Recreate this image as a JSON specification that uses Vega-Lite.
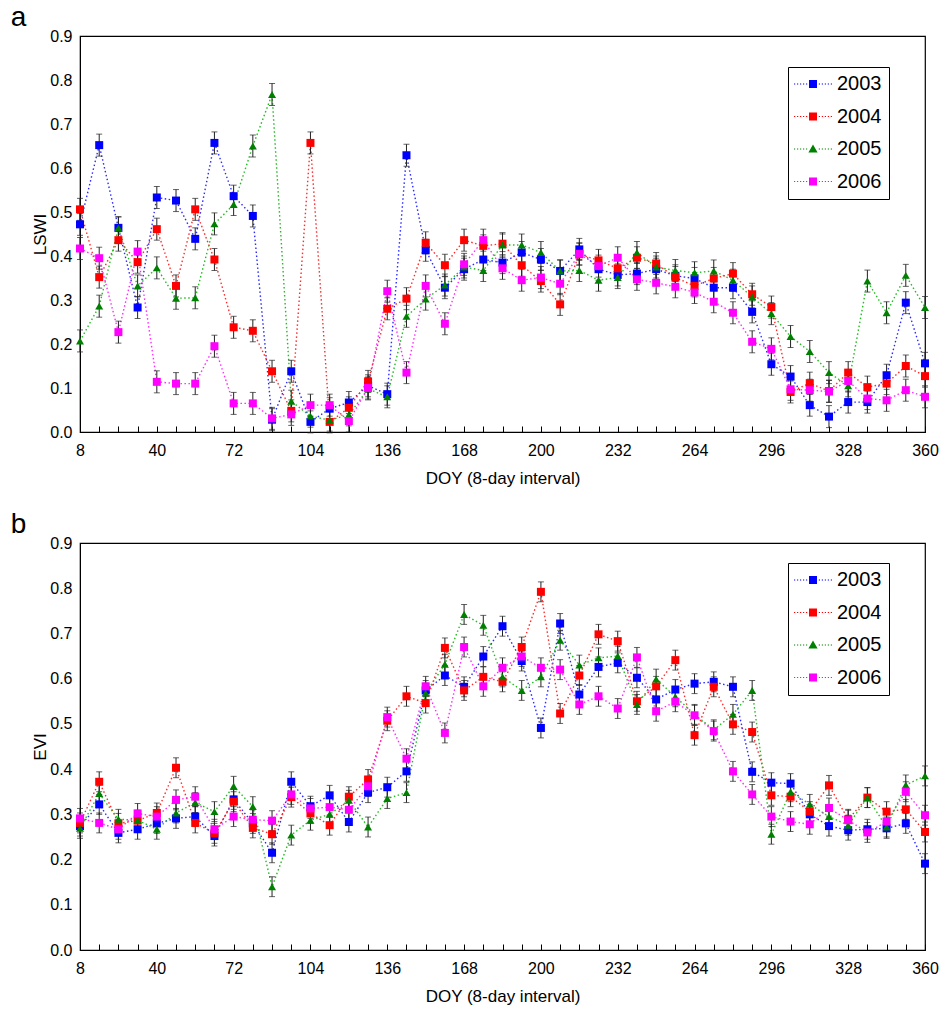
{
"$schema": "https://vega.github.io/schema/vega-lite/v6.json",
"autosize": {"type": "pad"},
"padding": {"left": 10, "top": 3, "right": 5, "bottom": 5},
"config": {
  "font": "Liberation Sans",
  "axis": {"labelFontSize": 16, "labelColor": "black", "titleFontSize": 17, "titleFontWeight": "normal", "titleColor": "black", "domainColor": "black", "tickColor": "black", "grid": false},
  "view": {"stroke": "black", "strokeWidth": 1.2},
  "title": {"color": "black"}
},
"spacing": 23,
"resolve": {"legend": {"fill": "independent"}},
"datasets": {
"lswi": [
{"doy":8,"year":"2003","val":0.472,"err":0.025},{"doy":8,"year":"2004","val":0.506,"err":0.025},{"doy":8,"year":"2005","val":0.207,"err":0.025},{"doy":8,"year":"2006","val":0.417,"err":0.025},
{"doy":16,"year":"2003","val":0.652,"err":0.025},{"doy":16,"year":"2004","val":0.352,"err":0.025},{"doy":16,"year":"2005","val":0.286,"err":0.025},{"doy":16,"year":"2006","val":0.395,"err":0.025},
{"doy":24,"year":"2003","val":0.464,"err":0.025},{"doy":24,"year":"2004","val":0.436,"err":0.025},{"doy":24,"year":"2005","val":0.464,"err":0.025},{"doy":24,"year":"2006","val":0.227,"err":0.025},
{"doy":32,"year":"2003","val":0.283,"err":0.025},{"doy":32,"year":"2004","val":0.386,"err":0.025},{"doy":32,"year":"2005","val":0.332,"err":0.025},{"doy":32,"year":"2006","val":0.41,"err":0.025},
{"doy":40,"year":"2003","val":0.533,"err":0.025},{"doy":40,"year":"2004","val":0.461,"err":0.025},{"doy":40,"year":"2005","val":0.373,"err":0.025},{"doy":40,"year":"2006","val":0.114,"err":0.025},
{"doy":48,"year":"2003","val":0.526,"err":0.025},{"doy":48,"year":"2004","val":0.332,"err":0.025},{"doy":48,"year":"2005","val":0.304,"err":0.025},{"doy":48,"year":"2006","val":0.11,"err":0.025},
{"doy":56,"year":"2003","val":0.439,"err":0.025},{"doy":56,"year":"2004","val":0.506,"err":0.025},{"doy":56,"year":"2005","val":0.305,"err":0.025},{"doy":56,"year":"2006","val":0.11,"err":0.025},
{"doy":64,"year":"2003","val":0.657,"err":0.025},{"doy":64,"year":"2004","val":0.392,"err":0.025},{"doy":64,"year":"2005","val":0.473,"err":0.025},{"doy":64,"year":"2006","val":0.195,"err":0.025},
{"doy":72,"year":"2003","val":0.536,"err":0.025},{"doy":72,"year":"2004","val":0.238,"err":0.025},{"doy":72,"year":"2005","val":0.517,"err":0.025},{"doy":72,"year":"2006","val":0.065,"err":0.025},
{"doy":80,"year":"2003","val":0.491,"err":0.025},{"doy":80,"year":"2004","val":0.23,"err":0.025},{"doy":80,"year":"2005","val":0.65,"err":0.025},{"doy":80,"year":"2006","val":0.065,"err":0.025},
{"doy":88,"year":"2003","val":0.028,"err":0.025},{"doy":88,"year":"2004","val":0.138,"err":0.025},{"doy":88,"year":"2005","val":0.767,"err":0.025},{"doy":88,"year":"2006","val":0.031,"err":0.025},
{"doy":96,"year":"2003","val":0.138,"err":0.025},{"doy":96,"year":"2004","val":0.048,"err":0.025},{"doy":96,"year":"2005","val":0.07,"err":0.025},{"doy":96,"year":"2006","val":0.04,"err":0.025},
{"doy":104,"year":"2003","val":0.023,"err":0.025},{"doy":104,"year":"2004","val":0.657,"err":0.025},{"doy":104,"year":"2005","val":0.036,"err":0.025},{"doy":104,"year":"2006","val":0.061,"err":0.025},
{"doy":112,"year":"2003","val":0.053,"err":0.025},{"doy":112,"year":"2004","val":0.023,"err":0.025},{"doy":112,"year":"2005","val":0.027,"err":0.025},{"doy":112,"year":"2006","val":0.061,"err":0.025},
{"doy":120,"year":"2003","val":0.067,"err":0.025},{"doy":120,"year":"2004","val":0.055,"err":0.025},{"doy":120,"year":"2005","val":0.039,"err":0.025},{"doy":120,"year":"2006","val":0.025,"err":0.025},
{"doy":128,"year":"2003","val":0.105,"err":0.025},{"doy":128,"year":"2004","val":0.115,"err":0.025},{"doy":128,"year":"2005","val":0.098,"err":0.025},{"doy":128,"year":"2006","val":0.1,"err":0.025},
{"doy":136,"year":"2003","val":0.086,"err":0.025},{"doy":136,"year":"2004","val":0.28,"err":0.025},{"doy":136,"year":"2005","val":0.08,"err":0.025},{"doy":136,"year":"2006","val":0.32,"err":0.025},
{"doy":144,"year":"2003","val":0.629,"err":0.025},{"doy":144,"year":"2004","val":0.303,"err":0.025},{"doy":144,"year":"2005","val":0.263,"err":0.025},{"doy":144,"year":"2006","val":0.135,"err":0.025},
{"doy":152,"year":"2003","val":0.413,"err":0.025},{"doy":152,"year":"2004","val":0.43,"err":0.025},{"doy":152,"year":"2005","val":0.302,"err":0.025},{"doy":152,"year":"2006","val":0.332,"err":0.025},
{"doy":160,"year":"2003","val":0.328,"err":0.025},{"doy":160,"year":"2004","val":0.379,"err":0.025},{"doy":160,"year":"2005","val":0.334,"err":0.025},{"doy":160,"year":"2006","val":0.246,"err":0.025},
{"doy":168,"year":"2003","val":0.37,"err":0.025},{"doy":168,"year":"2004","val":0.436,"err":0.025},{"doy":168,"year":"2005","val":0.375,"err":0.025},{"doy":168,"year":"2006","val":0.381,"err":0.025},
{"doy":176,"year":"2003","val":0.392,"err":0.025},{"doy":176,"year":"2004","val":0.423,"err":0.025},{"doy":176,"year":"2005","val":0.367,"err":0.025},{"doy":176,"year":"2006","val":0.436,"err":0.025},
{"doy":184,"year":"2003","val":0.385,"err":0.025},{"doy":184,"year":"2004","val":0.428,"err":0.025},{"doy":184,"year":"2005","val":0.425,"err":0.025},{"doy":184,"year":"2006","val":0.372,"err":0.025},
{"doy":192,"year":"2003","val":0.408,"err":0.025},{"doy":192,"year":"2004","val":0.379,"err":0.025},{"doy":192,"year":"2005","val":0.425,"err":0.025},{"doy":192,"year":"2006","val":0.345,"err":0.025},
{"doy":200,"year":"2003","val":0.392,"err":0.025},{"doy":200,"year":"2004","val":0.343,"err":0.025},{"doy":200,"year":"2005","val":0.408,"err":0.025},{"doy":200,"year":"2006","val":0.351,"err":0.025},
{"doy":208,"year":"2003","val":0.366,"err":0.025},{"doy":208,"year":"2004","val":0.29,"err":0.025},{"doy":208,"year":"2005","val":0.366,"err":0.025},{"doy":208,"year":"2006","val":0.337,"err":0.025},
{"doy":216,"year":"2003","val":0.415,"err":0.025},{"doy":216,"year":"2004","val":0.404,"err":0.025},{"doy":216,"year":"2005","val":0.367,"err":0.025},{"doy":216,"year":"2006","val":0.405,"err":0.025},
{"doy":224,"year":"2003","val":0.37,"err":0.025},{"doy":224,"year":"2004","val":0.39,"err":0.025},{"doy":224,"year":"2005","val":0.345,"err":0.025},{"doy":224,"year":"2006","val":0.377,"err":0.025},
{"doy":232,"year":"2003","val":0.357,"err":0.025},{"doy":232,"year":"2004","val":0.372,"err":0.025},{"doy":232,"year":"2005","val":0.351,"err":0.025},{"doy":232,"year":"2006","val":0.396,"err":0.025},
{"doy":240,"year":"2003","val":0.36,"err":0.025},{"doy":240,"year":"2004","val":0.396,"err":0.025},{"doy":240,"year":"2005","val":0.408,"err":0.025},{"doy":240,"year":"2006","val":0.347,"err":0.025},
{"doy":248,"year":"2003","val":0.37,"err":0.025},{"doy":248,"year":"2004","val":0.383,"err":0.025},{"doy":248,"year":"2005","val":0.375,"err":0.025},{"doy":248,"year":"2006","val":0.339,"err":0.025},
{"doy":256,"year":"2003","val":0.355,"err":0.025},{"doy":256,"year":"2004","val":0.351,"err":0.025},{"doy":256,"year":"2005","val":0.367,"err":0.025},{"doy":256,"year":"2006","val":0.33,"err":0.025},
{"doy":264,"year":"2003","val":0.349,"err":0.025},{"doy":264,"year":"2004","val":0.332,"err":0.025},{"doy":264,"year":"2005","val":0.362,"err":0.025},{"doy":264,"year":"2006","val":0.317,"err":0.025},
{"doy":272,"year":"2003","val":0.328,"err":0.025},{"doy":272,"year":"2004","val":0.349,"err":0.025},{"doy":272,"year":"2005","val":0.366,"err":0.025},{"doy":272,"year":"2006","val":0.296,"err":0.025},
{"doy":280,"year":"2003","val":0.328,"err":0.025},{"doy":280,"year":"2004","val":0.36,"err":0.025},{"doy":280,"year":"2005","val":0.345,"err":0.025},{"doy":280,"year":"2006","val":0.271,"err":0.025},
{"doy":288,"year":"2003","val":0.273,"err":0.025},{"doy":288,"year":"2004","val":0.313,"err":0.025},{"doy":288,"year":"2005","val":0.307,"err":0.025},{"doy":288,"year":"2006","val":0.205,"err":0.025},
{"doy":296,"year":"2003","val":0.154,"err":0.025},{"doy":296,"year":"2004","val":0.284,"err":0.025},{"doy":296,"year":"2005","val":0.269,"err":0.025},{"doy":296,"year":"2006","val":0.189,"err":0.025},
{"doy":304,"year":"2003","val":0.126,"err":0.025},{"doy":304,"year":"2004","val":0.091,"err":0.025},{"doy":304,"year":"2005","val":0.217,"err":0.025},{"doy":304,"year":"2006","val":0.097,"err":0.025},
{"doy":312,"year":"2003","val":0.061,"err":0.025},{"doy":312,"year":"2004","val":0.111,"err":0.025},{"doy":312,"year":"2005","val":0.183,"err":0.025},{"doy":312,"year":"2006","val":0.095,"err":0.025},
{"doy":320,"year":"2003","val":0.035,"err":0.025},{"doy":320,"year":"2004","val":0.093,"err":0.025},{"doy":320,"year":"2005","val":0.135,"err":0.025},{"doy":320,"year":"2006","val":0.092,"err":0.025},
{"doy":328,"year":"2003","val":0.068,"err":0.025},{"doy":328,"year":"2004","val":0.135,"err":0.025},{"doy":328,"year":"2005","val":0.105,"err":0.025},{"doy":328,"year":"2006","val":0.116,"err":0.025},
{"doy":336,"year":"2003","val":0.068,"err":0.025},{"doy":336,"year":"2004","val":0.102,"err":0.025},{"doy":336,"year":"2005","val":0.343,"err":0.025},{"doy":336,"year":"2006","val":0.076,"err":0.025},
{"doy":344,"year":"2003","val":0.129,"err":0.025},{"doy":344,"year":"2004","val":0.11,"err":0.025},{"doy":344,"year":"2005","val":0.271,"err":0.025},{"doy":344,"year":"2006","val":0.072,"err":0.025},
{"doy":352,"year":"2003","val":0.294,"err":0.025},{"doy":352,"year":"2004","val":0.15,"err":0.025},{"doy":352,"year":"2005","val":0.356,"err":0.025},{"doy":352,"year":"2006","val":0.095,"err":0.025},
{"doy":360,"year":"2003","val":0.156,"err":0.025},{"doy":360,"year":"2004","val":0.127,"err":0.025},{"doy":360,"year":"2005","val":0.283,"err":0.025},{"doy":360,"year":"2006","val":0.08,"err":0.025}
],
"evi": [
{"doy":8,"year":"2003","val":0.274,"err":0.022},{"doy":8,"year":"2004","val":0.281,"err":0.022},{"doy":8,"year":"2005","val":0.269,"err":0.022},{"doy":8,"year":"2006","val":0.291,"err":0.022},
{"doy":16,"year":"2003","val":0.322,"err":0.022},{"doy":16,"year":"2004","val":0.372,"err":0.022},{"doy":16,"year":"2005","val":0.346,"err":0.022},{"doy":16,"year":"2006","val":0.281,"err":0.022},
{"doy":24,"year":"2003","val":0.259,"err":0.022},{"doy":24,"year":"2004","val":0.28,"err":0.022},{"doy":24,"year":"2005","val":0.289,"err":0.022},{"doy":24,"year":"2006","val":0.267,"err":0.022},
{"doy":32,"year":"2003","val":0.267,"err":0.022},{"doy":32,"year":"2004","val":0.286,"err":0.022},{"doy":32,"year":"2005","val":0.287,"err":0.022},{"doy":32,"year":"2006","val":0.302,"err":0.022},
{"doy":40,"year":"2003","val":0.28,"err":0.022},{"doy":40,"year":"2004","val":0.303,"err":0.022},{"doy":40,"year":"2005","val":0.267,"err":0.022},{"doy":40,"year":"2006","val":0.295,"err":0.022},
{"doy":48,"year":"2003","val":0.291,"err":0.022},{"doy":48,"year":"2004","val":0.403,"err":0.022},{"doy":48,"year":"2005","val":0.303,"err":0.022},{"doy":48,"year":"2006","val":0.332,"err":0.022},
{"doy":56,"year":"2003","val":0.295,"err":0.022},{"doy":56,"year":"2004","val":0.281,"err":0.022},{"doy":56,"year":"2005","val":0.326,"err":0.022},{"doy":56,"year":"2006","val":0.339,"err":0.022},
{"doy":64,"year":"2003","val":0.252,"err":0.022},{"doy":64,"year":"2004","val":0.258,"err":0.022},{"doy":64,"year":"2005","val":0.306,"err":0.022},{"doy":64,"year":"2006","val":0.267,"err":0.022},
{"doy":72,"year":"2003","val":0.333,"err":0.022},{"doy":72,"year":"2004","val":0.328,"err":0.022},{"doy":72,"year":"2005","val":0.362,"err":0.022},{"doy":72,"year":"2006","val":0.295,"err":0.022},
{"doy":80,"year":"2003","val":0.28,"err":0.022},{"doy":80,"year":"2004","val":0.27,"err":0.022},{"doy":80,"year":"2005","val":0.317,"err":0.022},{"doy":80,"year":"2006","val":0.288,"err":0.022},
{"doy":88,"year":"2003","val":0.215,"err":0.022},{"doy":88,"year":"2004","val":0.256,"err":0.022},{"doy":88,"year":"2005","val":0.14,"err":0.022},{"doy":88,"year":"2006","val":0.286,"err":0.022},
{"doy":96,"year":"2003","val":0.372,"err":0.022},{"doy":96,"year":"2004","val":0.338,"err":0.022},{"doy":96,"year":"2005","val":0.254,"err":0.022},{"doy":96,"year":"2006","val":0.344,"err":0.022},
{"doy":104,"year":"2003","val":0.318,"err":0.022},{"doy":104,"year":"2004","val":0.302,"err":0.022},{"doy":104,"year":"2005","val":0.287,"err":0.022},{"doy":104,"year":"2006","val":0.313,"err":0.022},
{"doy":112,"year":"2003","val":0.342,"err":0.022},{"doy":112,"year":"2004","val":0.276,"err":0.022},{"doy":112,"year":"2005","val":0.3,"err":0.022},{"doy":112,"year":"2006","val":0.316,"err":0.022},
{"doy":120,"year":"2003","val":0.283,"err":0.022},{"doy":120,"year":"2004","val":0.339,"err":0.022},{"doy":120,"year":"2005","val":0.331,"err":0.022},{"doy":120,"year":"2006","val":0.31,"err":0.022},
{"doy":128,"year":"2003","val":0.348,"err":0.022},{"doy":128,"year":"2004","val":0.377,"err":0.022},{"doy":128,"year":"2005","val":0.272,"err":0.022},{"doy":128,"year":"2006","val":0.362,"err":0.022},
{"doy":136,"year":"2003","val":0.36,"err":0.022},{"doy":136,"year":"2004","val":0.507,"err":0.022},{"doy":136,"year":"2005","val":0.335,"err":0.022},{"doy":136,"year":"2006","val":0.515,"err":0.022},
{"doy":144,"year":"2003","val":0.395,"err":0.022},{"doy":144,"year":"2004","val":0.561,"err":0.022},{"doy":144,"year":"2005","val":0.348,"err":0.022},{"doy":144,"year":"2006","val":0.423,"err":0.022},
{"doy":152,"year":"2003","val":0.574,"err":0.022},{"doy":152,"year":"2004","val":0.546,"err":0.022},{"doy":152,"year":"2005","val":0.568,"err":0.022},{"doy":152,"year":"2006","val":0.583,"err":0.022},
{"doy":160,"year":"2003","val":0.607,"err":0.022},{"doy":160,"year":"2004","val":0.668,"err":0.022},{"doy":160,"year":"2005","val":0.632,"err":0.022},{"doy":160,"year":"2006","val":0.48,"err":0.022},
{"doy":168,"year":"2003","val":0.582,"err":0.022},{"doy":168,"year":"2004","val":0.574,"err":0.022},{"doy":168,"year":"2005","val":0.742,"err":0.022},{"doy":168,"year":"2006","val":0.67,"err":0.022},
{"doy":176,"year":"2003","val":0.649,"err":0.022},{"doy":176,"year":"2004","val":0.604,"err":0.022},{"doy":176,"year":"2005","val":0.718,"err":0.022},{"doy":176,"year":"2006","val":0.583,"err":0.022},
{"doy":184,"year":"2003","val":0.716,"err":0.022},{"doy":184,"year":"2004","val":0.593,"err":0.022},{"doy":184,"year":"2005","val":0.604,"err":0.022},{"doy":184,"year":"2006","val":0.624,"err":0.022},
{"doy":192,"year":"2003","val":0.639,"err":0.022},{"doy":192,"year":"2004","val":0.67,"err":0.022},{"doy":192,"year":"2005","val":0.574,"err":0.022},{"doy":192,"year":"2006","val":0.649,"err":0.022},
{"doy":200,"year":"2003","val":0.491,"err":0.022},{"doy":200,"year":"2004","val":0.792,"err":0.022},{"doy":200,"year":"2005","val":0.604,"err":0.022},{"doy":200,"year":"2006","val":0.624,"err":0.022},
{"doy":208,"year":"2003","val":0.722,"err":0.022},{"doy":208,"year":"2004","val":0.523,"err":0.022},{"doy":208,"year":"2005","val":0.685,"err":0.022},{"doy":208,"year":"2006","val":0.62,"err":0.022},
{"doy":216,"year":"2003","val":0.565,"err":0.022},{"doy":216,"year":"2004","val":0.607,"err":0.022},{"doy":216,"year":"2005","val":0.63,"err":0.022},{"doy":216,"year":"2006","val":0.543,"err":0.022},
{"doy":224,"year":"2003","val":0.626,"err":0.022},{"doy":224,"year":"2004","val":0.698,"err":0.022},{"doy":224,"year":"2005","val":0.646,"err":0.022},{"doy":224,"year":"2006","val":0.561,"err":0.022},
{"doy":232,"year":"2003","val":0.635,"err":0.022},{"doy":232,"year":"2004","val":0.683,"err":0.022},{"doy":232,"year":"2005","val":0.65,"err":0.022},{"doy":232,"year":"2006","val":0.534,"err":0.022},
{"doy":240,"year":"2003","val":0.602,"err":0.022},{"doy":240,"year":"2004","val":0.55,"err":0.022},{"doy":240,"year":"2005","val":0.543,"err":0.022},{"doy":240,"year":"2006","val":0.647,"err":0.022},
{"doy":248,"year":"2003","val":0.554,"err":0.022},{"doy":248,"year":"2004","val":0.583,"err":0.022},{"doy":248,"year":"2005","val":0.599,"err":0.022},{"doy":248,"year":"2006","val":0.528,"err":0.022},
{"doy":256,"year":"2003","val":0.576,"err":0.022},{"doy":256,"year":"2004","val":0.641,"err":0.022},{"doy":256,"year":"2005","val":0.56,"err":0.022},{"doy":256,"year":"2006","val":0.549,"err":0.022},
{"doy":264,"year":"2003","val":0.589,"err":0.022},{"doy":264,"year":"2004","val":0.475,"err":0.022},{"doy":264,"year":"2005","val":0.521,"err":0.022},{"doy":264,"year":"2006","val":0.519,"err":0.022},
{"doy":272,"year":"2003","val":0.593,"err":0.022},{"doy":272,"year":"2004","val":0.582,"err":0.022},{"doy":272,"year":"2005","val":0.487,"err":0.022},{"doy":272,"year":"2006","val":0.484,"err":0.022},
{"doy":280,"year":"2003","val":0.582,"err":0.022},{"doy":280,"year":"2004","val":0.499,"err":0.022},{"doy":280,"year":"2005","val":0.521,"err":0.022},{"doy":280,"year":"2006","val":0.395,"err":0.022},
{"doy":288,"year":"2003","val":0.394,"err":0.022},{"doy":288,"year":"2004","val":0.482,"err":0.022},{"doy":288,"year":"2005","val":0.574,"err":0.022},{"doy":288,"year":"2006","val":0.344,"err":0.022},
{"doy":296,"year":"2003","val":0.37,"err":0.022},{"doy":296,"year":"2004","val":0.342,"err":0.022},{"doy":296,"year":"2005","val":0.256,"err":0.022},{"doy":296,"year":"2006","val":0.295,"err":0.022},
{"doy":304,"year":"2003","val":0.368,"err":0.022},{"doy":304,"year":"2004","val":0.339,"err":0.022},{"doy":304,"year":"2005","val":0.35,"err":0.022},{"doy":304,"year":"2006","val":0.284,"err":0.022},
{"doy":312,"year":"2003","val":0.3,"err":0.022},{"doy":312,"year":"2004","val":0.306,"err":0.022},{"doy":312,"year":"2005","val":0.322,"err":0.022},{"doy":312,"year":"2006","val":0.278,"err":0.022},
{"doy":320,"year":"2003","val":0.274,"err":0.022},{"doy":320,"year":"2004","val":0.364,"err":0.022},{"doy":320,"year":"2005","val":0.295,"err":0.022},{"doy":320,"year":"2006","val":0.314,"err":0.022},
{"doy":328,"year":"2003","val":0.265,"err":0.022},{"doy":328,"year":"2004","val":0.289,"err":0.022},{"doy":328,"year":"2005","val":0.276,"err":0.022},{"doy":328,"year":"2006","val":0.287,"err":0.022},
{"doy":336,"year":"2003","val":0.267,"err":0.022},{"doy":336,"year":"2004","val":0.337,"err":0.022},{"doy":336,"year":"2005","val":0.337,"err":0.022},{"doy":336,"year":"2006","val":0.26,"err":0.022},
{"doy":344,"year":"2003","val":0.269,"err":0.022},{"doy":344,"year":"2004","val":0.306,"err":0.022},{"doy":344,"year":"2005","val":0.272,"err":0.022},{"doy":344,"year":"2006","val":0.284,"err":0.022},
{"doy":352,"year":"2003","val":0.28,"err":0.022},{"doy":352,"year":"2004","val":0.311,"err":0.022},{"doy":352,"year":"2005","val":0.365,"err":0.022},{"doy":352,"year":"2006","val":0.35,"err":0.022},
{"doy":360,"year":"2003","val":0.191,"err":0.022},{"doy":360,"year":"2004","val":0.261,"err":0.022},{"doy":360,"year":"2005","val":0.385,"err":0.022},{"doy":360,"year":"2006","val":0.298,"err":0.022}
]
},
"vconcat": [
{
  "width": 845, "height": 396,
  "title": {"text": "a", "anchor": "start", "frame": "bounds", "fontSize": 28, "fontWeight": "normal", "dx": -21, "offset": -4},
  "data": {"name": "lswi"},
  "encoding": {
    "x": {"field": "doy", "type": "quantitative", "scale": {"domain": [8, 360], "nice": false, "zero": false},
      "axis": {"title": "DOY (8-day interval)", "values": [8,16,24,32,40,48,56,64,72,80,88,96,104,112,120,128,136,144,152,160,168,176,184,192,200,208,216,224,232,240,248,256,264,272,280,288,296,304,312,320,328,336,344,352,360], "labelExpr": "(datum.value - 8) % 32 === 0 ? datum.label : ''", "tickSize": -6, "labelPadding": 16, "titlePadding": 12, "labelFlush": false}},
    "y": {"field": "val", "type": "quantitative", "scale": {"domain": [0, 0.9], "nice": false},
      "axis": {"title": "LSWI", "values": [0,0.1,0.2,0.3,0.4,0.5,0.6,0.7,0.8,0.9], "format": ".1f", "ticks": false, "labelPadding": 8, "titlePadding": 0}}
  },
  "layer": [
    {"mark": {"type": "line", "strokeDash": [1.5, 2.5], "strokeWidth": 1.4},
     "encoding": {"stroke": {"field": "year", "type": "nominal", "scale": {"domain": ["2003","2004","2005","2006"], "range": ["#2a2aff","#ff2a2a","#22bb22","#ff2aff"]}, "legend": null}}},
    {"mark": {"type": "errorbar", "ticks": {"size": 6, "color": "#222222"}, "color": "#222222", "thickness": 1},
     "encoding": {"yError": {"field": "err"}, "detail": {"field": "year"}}},
    {"mark": {"type": "point", "filled": true, "size": 64, "opacity": 1},
     "encoding": {
       "fill": {"field": "year", "type": "nominal", "scale": {"domain": ["2003","2004","2005","2006"], "range": ["#0000ff","#ff0000","#008000","#ff00ff"]},
         "legend": {"orient": "none", "legendX": 708, "legendY": 31, "title": null, "strokeColor": "black", "fillColor": "white", "padding": 7, "symbolSize": 64, "symbolOffset": 8, "labelOffset": 14, "labelFontSize": 20, "labelColor": "black", "rowPadding": 12.5, "symbolStrokeWidth": 0, "symbolOpacity": 1,
           "encode": {"symbols": {"update": {"shape": {"signal": "datum.value == '2005' ? 'M-4.75,-0.15h0.3v0.3h-0.3ZM-4,-0.15h0.3v0.3h-0.3ZM-3.25,-0.15h0.3v0.3h-0.3ZM-2.5,-0.15h0.3v0.3h-0.3ZM-1.75,-0.15h0.3v0.3h-0.3ZM1.45,-0.15h0.3v0.3h-0.3ZM2.2,-0.15h0.3v0.3h-0.3ZM2.95,-0.15h0.3v0.3h-0.3ZM3.7,-0.15h0.3v0.3h-0.3ZM4.45,-0.15h0.3v0.3h-0.3ZM0,-1.15L1.15,0.9H-1.15Z' : 'M-4.75,-0.15h0.3v0.3h-0.3ZM-4,-0.15h0.3v0.3h-0.3ZM-3.25,-0.15h0.3v0.3h-0.3ZM-2.5,-0.15h0.3v0.3h-0.3ZM-1.75,-0.15h0.3v0.3h-0.3ZM1.45,-0.15h0.3v0.3h-0.3ZM2.2,-0.15h0.3v0.3h-0.3ZM2.95,-0.15h0.3v0.3h-0.3ZM3.7,-0.15h0.3v0.3h-0.3ZM4.45,-0.15h0.3v0.3h-0.3ZM-1,-1H1V1H-1Z'"}}}}}},
       "shape": {"field": "year", "type": "nominal", "scale": {"domain": ["2003","2004","2005","2006"], "range": ["square","square","triangle-up","square"]}, "legend": null}
     }}
  ]
},
{
  "width": 845, "height": 407,
  "title": {"text": "b", "anchor": "start", "frame": "bounds", "fontSize": 28, "fontWeight": "normal", "dx": -21, "offset": -4},
  "data": {"name": "evi"},
  "encoding": {
    "x": {"field": "doy", "type": "quantitative", "scale": {"domain": [8, 360], "nice": false, "zero": false},
      "axis": {"title": "DOY (8-day interval)", "values": [8,16,24,32,40,48,56,64,72,80,88,96,104,112,120,128,136,144,152,160,168,176,184,192,200,208,216,224,232,240,248,256,264,272,280,288,296,304,312,320,328,336,344,352,360], "labelExpr": "(datum.value - 8) % 32 === 0 ? datum.label : ''", "tickSize": -6, "labelPadding": 16, "titlePadding": 12, "labelFlush": false}},
    "y": {"field": "val", "type": "quantitative", "scale": {"domain": [0, 0.9], "nice": false},
      "axis": {"title": "EVI", "values": [0,0.1,0.2,0.3,0.4,0.5,0.6,0.7,0.8,0.9], "format": ".1f", "ticks": false, "labelPadding": 8, "titlePadding": 0}}
  },
  "layer": [
    {"mark": {"type": "line", "strokeDash": [1.5, 2.5], "strokeWidth": 1.4},
     "encoding": {"stroke": {"field": "year", "type": "nominal", "scale": {"domain": ["2003","2004","2005","2006"], "range": ["#2a2aff","#ff2a2a","#22bb22","#ff2aff"]}, "legend": null}}},
    {"mark": {"type": "errorbar", "ticks": {"size": 6, "color": "#222222"}, "color": "#222222", "thickness": 1},
     "encoding": {"yError": {"field": "err"}, "detail": {"field": "year"}}},
    {"mark": {"type": "point", "filled": true, "size": 64, "opacity": 1},
     "encoding": {
       "fill": {"field": "year", "type": "nominal", "scale": {"domain": ["2003","2004","2005","2006"], "range": ["#0000ff","#ff0000","#008000","#ff00ff"]},
         "legend": {"orient": "none", "legendX": 708, "legendY": 20, "title": null, "strokeColor": "black", "fillColor": "white", "padding": 7, "symbolSize": 64, "symbolOffset": 8, "labelOffset": 14, "labelFontSize": 20, "labelColor": "black", "rowPadding": 12.5, "symbolStrokeWidth": 0, "symbolOpacity": 1,
           "encode": {"symbols": {"update": {"shape": {"signal": "datum.value == '2005' ? 'M-4.75,-0.15h0.3v0.3h-0.3ZM-4,-0.15h0.3v0.3h-0.3ZM-3.25,-0.15h0.3v0.3h-0.3ZM-2.5,-0.15h0.3v0.3h-0.3ZM-1.75,-0.15h0.3v0.3h-0.3ZM1.45,-0.15h0.3v0.3h-0.3ZM2.2,-0.15h0.3v0.3h-0.3ZM2.95,-0.15h0.3v0.3h-0.3ZM3.7,-0.15h0.3v0.3h-0.3ZM4.45,-0.15h0.3v0.3h-0.3ZM0,-1.15L1.15,0.9H-1.15Z' : 'M-4.75,-0.15h0.3v0.3h-0.3ZM-4,-0.15h0.3v0.3h-0.3ZM-3.25,-0.15h0.3v0.3h-0.3ZM-2.5,-0.15h0.3v0.3h-0.3ZM-1.75,-0.15h0.3v0.3h-0.3ZM1.45,-0.15h0.3v0.3h-0.3ZM2.2,-0.15h0.3v0.3h-0.3ZM2.95,-0.15h0.3v0.3h-0.3ZM3.7,-0.15h0.3v0.3h-0.3ZM4.45,-0.15h0.3v0.3h-0.3ZM-1,-1H1V1H-1Z'"}}}}}},
       "shape": {"field": "year", "type": "nominal", "scale": {"domain": ["2003","2004","2005","2006"], "range": ["square","square","triangle-up","square"]}, "legend": null}
     }}
  ]
}
]
}
